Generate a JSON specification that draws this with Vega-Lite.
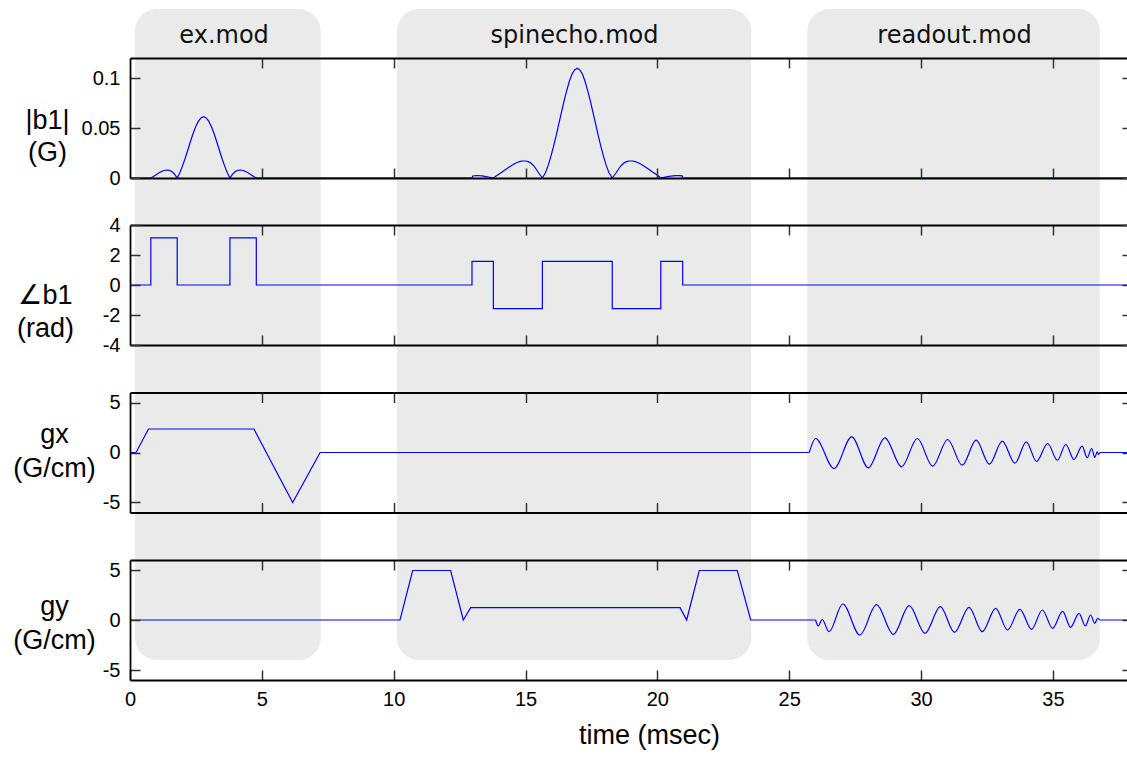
{
  "$schema": "https://vega.github.io/schema/vega-lite/v6.json",
  "width": 997,
  "height": 651,
  "autosize": "none",
  "padding": {"left": 130, "top": 9, "right": 0, "bottom": 97},
  "config": {
    "view": {"stroke": null},
    "axis": {
      "grid": false, "zindex": 1,
      "domainColor": "black", "domainWidth": 1.8,
      "tickColor": "#333333", "tickWidth": 1.5, "tickSize": -10,
      "labelFont": "Liberation Sans", "labelFontSize": 20, "labelColor": "black",
      "labelFlush": false, "labelOverlap": false, "labelPadding": 20,
      "titleFont": "Liberation Sans", "titleFontSize": 27, "titleFontWeight": "normal", "titleColor": "black"
    },
    "line": {"color": "#0000ff", "strokeWidth": 1.2}
  },
  "datasets": {
    "modules": [
      {"module": "ex.mod", "start": 0.19, "end": 7.23},
      {"module": "spinecho.mod", "start": 10.13, "end": 23.56},
      {"module": "readout.mod", "start": 25.69, "end": 36.78}
    ],
    "b1mag": [
      {"t": 0, "v": 0}, {"t": 0.79, "v": 0},
      {"t": 0.89, "v": 0.0016}, {"t": 0.99, "v": 0.0033}, {"t": 1.09, "v": 0.0049}, {"t": 1.19, "v": 0.0064},
      {"t": 1.29, "v": 0.0075}, {"t": 1.39, "v": 0.008}, {"t": 1.49, "v": 0.0077}, {"t": 1.59, "v": 0.0064},
      {"t": 1.69, "v": 0.0039}, {"t": 1.79, "v": 0}, {"t": 1.89, "v": 0.0053}, {"t": 1.99, "v": 0.0119},
      {"t": 2.09, "v": 0.0195}, {"t": 2.19, "v": 0.0277}, {"t": 2.29, "v": 0.0362}, {"t": 2.39, "v": 0.0442},
      {"t": 2.49, "v": 0.0512}, {"t": 2.59, "v": 0.0566}, {"t": 2.69, "v": 0.0601}, {"t": 2.79, "v": 0.0613},
      {"t": 2.89, "v": 0.0601}, {"t": 2.99, "v": 0.0566}, {"t": 3.09, "v": 0.0512}, {"t": 3.19, "v": 0.0442},
      {"t": 3.29, "v": 0.0362}, {"t": 3.39, "v": 0.0277}, {"t": 3.49, "v": 0.0195}, {"t": 3.59, "v": 0.0119},
      {"t": 3.69, "v": 0.0053}, {"t": 3.79, "v": 0}, {"t": 3.89, "v": 0.0039}, {"t": 3.99, "v": 0.0064},
      {"t": 4.09, "v": 0.0077}, {"t": 4.19, "v": 0.008}, {"t": 4.29, "v": 0.0075}, {"t": 4.39, "v": 0.0064},
      {"t": 4.49, "v": 0.0049}, {"t": 4.59, "v": 0.0033}, {"t": 4.69, "v": 0.0016}, {"t": 4.79, "v": 0},
      {"t": 12.97, "v": 0}, {"t": 13.0, "v": 0.002}, {"t": 13.15, "v": 0.0025}, {"t": 13.35, "v": 0.0021},
      {"t": 13.55, "v": 0.0012}, {"t": 13.78, "v": 0},
      {"t": 13.9, "v": 0.0022}, {"t": 14.0, "v": 0.004}, {"t": 14.1, "v": 0.0058}, {"t": 14.2, "v": 0.0077},
      {"t": 14.3, "v": 0.0095}, {"t": 14.4, "v": 0.0113}, {"t": 14.5, "v": 0.013}, {"t": 14.6, "v": 0.0145},
      {"t": 14.7, "v": 0.0157}, {"t": 14.8, "v": 0.0166}, {"t": 14.9, "v": 0.017}, {"t": 15.0, "v": 0.017},
      {"t": 15.1, "v": 0.0164}, {"t": 15.2, "v": 0.015}, {"t": 15.3, "v": 0.0125}, {"t": 15.4, "v": 0.009},
      {"t": 15.5, "v": 0.005}, {"t": 15.64, "v": 0},
      {"t": 15.76, "v": 0.0055}, {"t": 15.86, "v": 0.0126}, {"t": 15.96, "v": 0.0214}, {"t": 16.06, "v": 0.0313},
      {"t": 16.16, "v": 0.0422}, {"t": 16.26, "v": 0.0538}, {"t": 16.36, "v": 0.0653}, {"t": 16.46, "v": 0.0768},
      {"t": 16.56, "v": 0.0872}, {"t": 16.66, "v": 0.0965}, {"t": 16.76, "v": 0.1037}, {"t": 16.86, "v": 0.1081},
      {"t": 16.96, "v": 0.1097}, {"t": 17.06, "v": 0.1081}, {"t": 17.16, "v": 0.1037}, {"t": 17.26, "v": 0.0965},
      {"t": 17.36, "v": 0.0872}, {"t": 17.46, "v": 0.0768}, {"t": 17.56, "v": 0.0653}, {"t": 17.66, "v": 0.0538},
      {"t": 17.76, "v": 0.0422}, {"t": 17.86, "v": 0.0313}, {"t": 17.96, "v": 0.0214}, {"t": 18.06, "v": 0.0126},
      {"t": 18.16, "v": 0.0055}, {"t": 18.29, "v": 0},
      {"t": 18.43, "v": 0.005}, {"t": 18.53, "v": 0.009}, {"t": 18.63, "v": 0.0125}, {"t": 18.73, "v": 0.015},
      {"t": 18.83, "v": 0.0164}, {"t": 18.93, "v": 0.017}, {"t": 19.03, "v": 0.017}, {"t": 19.13, "v": 0.0166},
      {"t": 19.23, "v": 0.0157}, {"t": 19.33, "v": 0.0145}, {"t": 19.43, "v": 0.013}, {"t": 19.53, "v": 0.0113},
      {"t": 19.63, "v": 0.0095}, {"t": 19.73, "v": 0.0077}, {"t": 19.83, "v": 0.0058}, {"t": 19.93, "v": 0.004},
      {"t": 20.03, "v": 0.0022}, {"t": 20.13, "v": 0},
      {"t": 20.3, "v": 0.0008}, {"t": 20.5, "v": 0.0018}, {"t": 20.7, "v": 0.0024}, {"t": 20.85, "v": 0.0024},
      {"t": 20.94, "v": 0.0022}, {"t": 20.96, "v": 0}, {"t": 38, "v": 0}
    ],
    "b1phase": [
      {"t": 0, "v": 0}, {"t": 0.79, "v": 0}, {"t": 0.79, "v": 3.14}, {"t": 1.79, "v": 3.14}, {"t": 1.79, "v": 0},
      {"t": 3.79, "v": 0}, {"t": 3.79, "v": 3.14}, {"t": 4.79, "v": 3.14}, {"t": 4.79, "v": 0},
      {"t": 12.97, "v": 0}, {"t": 12.97, "v": 1.57}, {"t": 13.78, "v": 1.57}, {"t": 13.78, "v": -1.57},
      {"t": 15.64, "v": -1.57}, {"t": 15.64, "v": 1.57}, {"t": 18.29, "v": 1.57}, {"t": 18.29, "v": -1.57},
      {"t": 20.13, "v": -1.57}, {"t": 20.13, "v": 1.57}, {"t": 20.96, "v": 1.57}, {"t": 20.96, "v": 0},
      {"t": 38, "v": 0}
    ],
    "gx": [
      {"seg": "a", "t": 0, "v": 0}, {"seg": "a", "t": 0.23, "v": 0}, {"seg": "a", "t": 0.7, "v": 2.35},
      {"seg": "a", "t": 4.7, "v": 2.35}, {"seg": "a", "t": 6.17, "v": -5.0}, {"seg": "a", "t": 7.21, "v": 0},
      {"seg": "a", "t": 25.76, "v": 0},
      {"seg": "b", "t": 36.78, "v": 0}, {"seg": "b", "t": 38, "v": 0}
    ],
    "gxRead": [
      {"t": 25.76, "v": 0}, {"t": 26.0, "v": 1.4}, {"t": 26.7, "v": -1.6}, {"t": 27.37, "v": 1.57},
      {"t": 28.0, "v": -1.53}, {"t": 28.63, "v": 1.47}, {"t": 29.26, "v": -1.43}, {"t": 29.86, "v": 1.4},
      {"t": 30.44, "v": -1.37}, {"t": 31.01, "v": 1.3}, {"t": 31.56, "v": -1.27}, {"t": 32.09, "v": 1.23},
      {"t": 32.59, "v": -1.17}, {"t": 33.08, "v": 1.13}, {"t": 33.56, "v": -1.07}, {"t": 33.99, "v": 1.07},
      {"t": 34.38, "v": -0.9}, {"t": 34.8, "v": 0.9}, {"t": 35.17, "v": -0.77}, {"t": 35.49, "v": 0.8},
      {"t": 35.8, "v": -0.7}, {"t": 36.11, "v": 0.63}, {"t": 36.3, "v": -0.53}, {"t": 36.47, "v": 0.4},
      {"t": 36.59, "v": -0.5}, {"t": 36.68, "v": 0.07}, {"t": 36.73, "v": -0.2}, {"t": 36.78, "v": 0}
    ],
    "gy": [
      {"seg": "a", "t": 0, "v": 0}, {"seg": "a", "t": 10.24, "v": 0}, {"seg": "a", "t": 10.72, "v": 4.95},
      {"seg": "a", "t": 12.16, "v": 4.95}, {"seg": "a", "t": 12.64, "v": 0}, {"seg": "a", "t": 12.92, "v": 1.23},
      {"seg": "a", "t": 20.86, "v": 1.23}, {"seg": "a", "t": 21.11, "v": 0}, {"seg": "a", "t": 21.59, "v": 4.95},
      {"seg": "a", "t": 23.03, "v": 4.95}, {"seg": "a", "t": 23.54, "v": 0}, {"seg": "a", "t": 26.0, "v": 0},
      {"seg": "b", "t": 36.77, "v": 0}, {"seg": "b", "t": 38, "v": 0}
    ],
    "gyRead": [
      {"t": 26.0, "v": 0}, {"t": 26.1, "v": -0.6}, {"t": 26.25, "v": 0.05}, {"t": 26.51, "v": -1.17},
      {"t": 27.03, "v": 1.6}, {"t": 27.68, "v": -1.5}, {"t": 28.31, "v": 1.53}, {"t": 28.95, "v": -1.43},
      {"t": 29.55, "v": 1.43}, {"t": 30.15, "v": -1.33}, {"t": 30.73, "v": 1.33}, {"t": 31.27, "v": -1.23},
      {"t": 31.82, "v": 1.27}, {"t": 32.32, "v": -1.17}, {"t": 32.83, "v": 1.17}, {"t": 33.28, "v": -1.0},
      {"t": 33.75, "v": 1.07}, {"t": 34.19, "v": -0.93}, {"t": 34.6, "v": 1.0}, {"t": 34.99, "v": -0.83},
      {"t": 35.37, "v": 0.87}, {"t": 35.67, "v": -0.73}, {"t": 35.99, "v": 0.67}, {"t": 36.23, "v": -0.6},
      {"t": 36.43, "v": 0.5}, {"t": 36.59, "v": -0.33}, {"t": 36.7, "v": 0.17}, {"t": 36.77, "v": 0}
    ]
  },
  "resolve": {"scale": {"y": "independent"}, "axis": {"x": "independent", "y": "independent"}},
  "layer": [
    {
      "data": {"name": "modules"},
      "mark": {"type": "rect", "color": "#eaeaea", "cornerRadius": 22},
      "encoding": {
        "x": {"field": "start", "type": "quantitative",
              "scale": {"domain": [0, 38], "range": [0, 1002], "nice": false, "zero": false},
              "axis": {"orient": "top", "offset": -40, "values": [3.55, 16.84, 31.25], "zindex": 2,
                       "labelExpr": "datum.value < 10 ? 'ex.mod' : (datum.value < 25 ? 'spinecho.mod' : 'readout.mod')",
                       "ticks": false, "domain": false, "title": null, "labelPadding": 7,
                       "labelBaseline": "alphabetic", "labelFont": "DejaVu Sans", "labelFontSize": 24, "labelColor": "#111111"}},
        "x2": {"field": "end"}
      }
    },
    {
      "data": {"name": "b1mag"},
      "mark": {"type": "line"},
      "encoding": {
        "x": {"field": "t", "type": "quantitative",
              "scale": {"domain": [0, 38], "range": [0, 1002], "nice": false, "zero": false},
              "axis": {"orient": "top", "offset": -49, "zindex": 2, "values": [5, 10, 15, 20, 25, 30, 35], "labels": false, "title": null}},
        "y": {"field": "v", "type": "quantitative",
              "scale": {"domain": [0, 0.12], "range": [169, 49], "nice": false, "zero": false},
              "axis": {"orient": "left", "zindex": 2, "values": [0, 0.05, 0.1], "labelExpr": "'' + datum.value",
                       "title": ["|b1|", "(G)"], "titleAngle": 0, "titleAlign": "center", "titleBaseline": "alphabetic",
                       "titleX": -83, "titleY": 119, "titleLineHeight": 32}},
        "order": {"value": null}
      }
    },
    {
      "data": {"name": "b1mag"},
      "mark": {"type": "line", "strokeOpacity": 0},
      "encoding": {
        "x": {"field": "t", "type": "quantitative",
              "scale": {"domain": [0, 38], "range": [0, 1002], "nice": false, "zero": false},
              "axis": {"orient": "bottom", "offset": -482, "zindex": 2, "values": [5, 10, 15, 20, 25, 30, 35], "labels": false, "title": null}},
        "y": {"field": "v", "type": "quantitative",
              "scale": {"domain": [0, 0.12], "range": [169, 49], "nice": false, "zero": false},
              "axis": {"orient": "right", "offset": 5, "zindex": 2, "values": [0, 0.05, 0.1], "labels": false, "title": null}},
        "order": {"value": null}
      }
    },
    {
      "data": {"name": "b1phase"},
      "mark": {"type": "line"},
      "encoding": {
        "x": {"field": "t", "type": "quantitative",
              "scale": {"domain": [0, 38], "range": [0, 1002], "nice": false, "zero": false},
              "axis": {"orient": "top", "offset": -216, "zindex": 2, "values": [5, 10, 15, 20, 25, 30, 35], "labels": false, "title": null}},
        "y": {"field": "v", "type": "quantitative",
              "scale": {"domain": [-4, 4], "range": [336, 216], "nice": false, "zero": false},
              "axis": {"orient": "left", "zindex": 2, "values": [-4, -2, 0, 2, 4], "labelExpr": "'' + datum.value",
                       "title": ["∠b1", "(rad)"], "titleAngle": 0, "titleAlign": "center", "titleBaseline": "alphabetic",
                       "titleX": -85, "titleY": 294, "titleLineHeight": 33}},
        "order": {"value": null}
      }
    },
    {
      "data": {"name": "b1phase"},
      "mark": {"type": "line", "strokeOpacity": 0},
      "encoding": {
        "x": {"field": "t", "type": "quantitative",
              "scale": {"domain": [0, 38], "range": [0, 1002], "nice": false, "zero": false},
              "axis": {"orient": "bottom", "offset": -315, "zindex": 2, "values": [5, 10, 15, 20, 25, 30, 35], "labels": false, "title": null}},
        "y": {"field": "v", "type": "quantitative",
              "scale": {"domain": [-4, 4], "range": [336, 216], "nice": false, "zero": false},
              "axis": {"orient": "right", "offset": 5, "zindex": 2, "values": [-4, -2, 0, 2, 4], "labels": false, "title": null}},
        "order": {"value": null}
      }
    },
    {
      "data": {"name": "gx"},
      "mark": {"type": "line"},
      "encoding": {
        "x": {"field": "t", "type": "quantitative",
              "scale": {"domain": [0, 38], "range": [0, 1002], "nice": false, "zero": false},
              "axis": {"orient": "top", "offset": -383.5, "zindex": 2, "values": [5, 10, 15, 20, 25, 30, 35], "labels": false, "title": null}},
        "y": {"field": "v", "type": "quantitative",
              "scale": {"domain": [-6, 6], "range": [503.5, 383.5], "nice": false, "zero": false},
              "axis": {"orient": "left", "zindex": 2, "values": [-5, 0, 5], "labelExpr": "'' + datum.value",
                       "title": ["gx", "(G/cm)"], "titleAngle": 0, "titleAlign": "center", "titleBaseline": "alphabetic",
                       "titleX": -76, "titleY": 433, "titleLineHeight": 34}},
        "detail": {"field": "seg"},
        "order": {"value": null}
      }
    },
    {
      "data": {"name": "gxRead"},
      "mark": {"type": "line", "interpolate": "monotone"},
      "encoding": {
        "x": {"field": "t", "type": "quantitative",
              "scale": {"domain": [0, 38], "range": [0, 1002], "nice": false, "zero": false},
              "axis": {"orient": "bottom", "offset": -147.5, "zindex": 2, "values": [5, 10, 15, 20, 25, 30, 35], "labels": false, "title": null}},
        "y": {"field": "v", "type": "quantitative",
              "scale": {"domain": [-6, 6], "range": [503.5, 383.5], "nice": false, "zero": false},
              "axis": {"orient": "right", "offset": 5, "zindex": 2, "values": [-5, 0, 5], "labels": false, "title": null}}
      }
    },
    {
      "data": {"name": "gy"},
      "mark": {"type": "line"},
      "encoding": {
        "x": {"field": "t", "type": "quantitative",
              "scale": {"domain": [0, 38], "range": [0, 1002], "nice": false, "zero": false},
              "axis": {"orient": "top", "offset": -551, "zindex": 2, "values": [5, 10, 15, 20, 25, 30, 35], "labels": false, "title": null}},
        "y": {"field": "v", "type": "quantitative",
              "scale": {"domain": [-6, 6], "range": [671, 551], "nice": false, "zero": false},
              "axis": {"orient": "left", "zindex": 2, "values": [-5, 0, 5], "labelExpr": "'' + datum.value",
                       "title": ["gy", "(G/cm)"], "titleAngle": 0, "titleAlign": "center", "titleBaseline": "alphabetic",
                       "titleX": -76, "titleY": 605, "titleLineHeight": 34}},
        "detail": {"field": "seg"},
        "order": {"value": null}
      }
    },
    {
      "data": {"name": "gyRead"},
      "mark": {"type": "line", "interpolate": "monotone"},
      "encoding": {
        "x": {"field": "t", "type": "quantitative",
              "scale": {"domain": [0, 38], "range": [0, 1002], "nice": false, "zero": false},
              "axis": {"orient": "bottom", "offset": 20, "zindex": 2, "values": [0, 5, 10, 15, 20, 25, 30, 35],
                       "title": "time (msec)", "labelPadding": 19, "titleX": 519, "titleY": 63,
                       "titleBaseline": "alphabetic", "titleFontSize": 27}},
        "y": {"field": "v", "type": "quantitative",
              "scale": {"domain": [-6, 6], "range": [671, 551], "nice": false, "zero": false},
              "axis": {"orient": "right", "offset": 5, "zindex": 2, "values": [-5, 0, 5], "labels": false, "title": null}}
      }
    }
  ]
}
